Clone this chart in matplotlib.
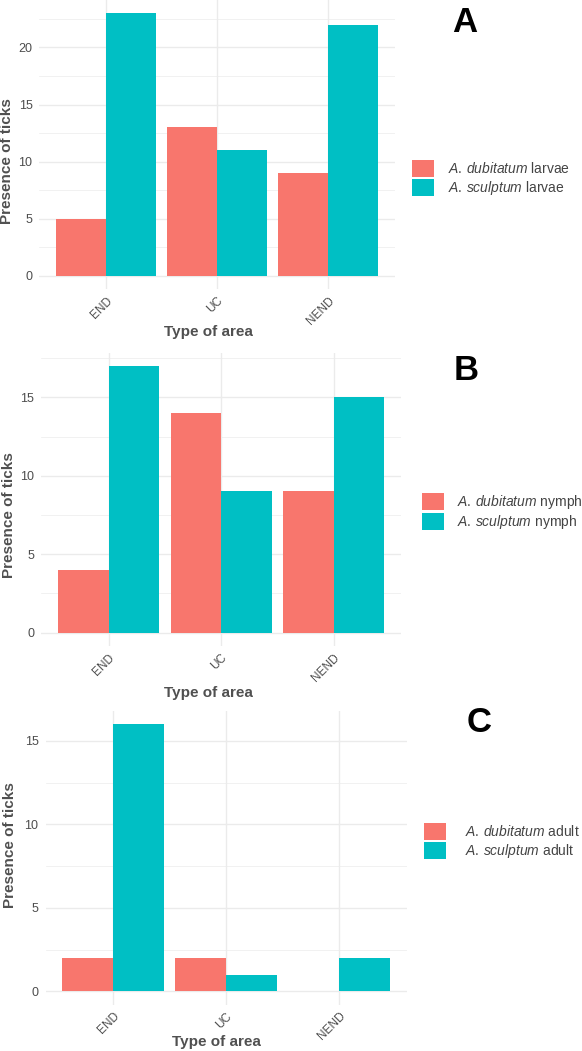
import numpy as np
import matplotlib
matplotlib.use("Agg")
import matplotlib.pyplot as plt
from matplotlib.ticker import MultipleLocator

plt.rcParams['font.family'] = ['Liberation Sans', 'DejaVu Sans']
plt.rcParams['mathtext.fontset'] = 'custom'
plt.rcParams['mathtext.rm'] = 'Liberation Sans'
plt.rcParams['mathtext.it'] = 'Liberation Sans:italic'

# Data
categories = ['END', 'UC', 'NEND']
larvae_dubitatum = [5, 13, 9]
larvae_sculptum = [23, 11, 22]
nymph_dubitatum = [4, 14, 9]
nymph_sculptum = [17, 9, 15]
adult_dubitatum = [2, 2, 0]
adult_sculptum = [16, 1, 2]

RED = '#F8766D'
TEAL = '#00BFC4'
GRID = '#ebebeb'
TXT = '#4d4d4d'

W, H = 582, 1051
fig = plt.figure(figsize=(W / 100, H / 100), dpi=100)


def px_axes(left, top, right, bottom):
    # pixel box -> figure fraction axes
    return fig.add_axes([left / W, 1 - bottom / H, (right - left) / W, (bottom - top) / H])


def draw_panel(ax, dub, scu, stage, letter, letter_xy, leg_xy, leg_pad, ylab_xy, xlab_xy):
    x = np.arange(len(categories))
    labels = [r'$\mathit{A.\!\ dubitatum}$ ' + stage, r'$\mathit{A.\!\ sculptum}$ ' + stage]
    b1 = ax.bar(x - 0.225, dub, 0.45, color=RED, zorder=2)
    b2 = ax.bar(x + 0.225, scu, 0.45, color=TEAL, zorder=2)
    ymax = max(max(dub), max(scu))
    ax.set_ylim(-0.05 * ymax, 1.05 * ymax)
    ax.set_xlim(-0.6, len(categories) - 0.4)
    ax.set_xticks(x)
    ax.set_xticklabels(categories, rotation=45, ha='right', va='top',
                       rotation_mode='anchor', fontsize=8.5, color=TXT)
    ax.yaxis.set_major_locator(MultipleLocator(5))
    ax.yaxis.set_minor_locator(MultipleLocator(2.5))
    ax.tick_params(axis='y', labelsize=9, labelcolor=TXT, length=0, pad=5)
    ax.tick_params(axis='y', which='minor', length=0)
    ax.tick_params(axis='x', length=0, pad=4)
    for s in ax.spines.values():
        s.set_visible(False)
    ax.grid(True, which='major', color=GRID, lw=1.0, zorder=0)
    ax.grid(True, which='minor', axis='y', color=GRID, lw=0.5, zorder=0)
    ax.set_axisbelow(True)

    ax.set_ylabel('Presence of ticks', fontsize=11, fontweight='bold', color='#505050')
    ax.yaxis.set_label_coords(*ylab_xy)
    ax.set_xlabel('Type of area', fontsize=11, fontweight='bold', color='#505050')
    ax.xaxis.set_label_coords(*xlab_xy)
    ax.xaxis.label.set_va('center')
    ax.yaxis.label.set_va('center')

    fig.text(letter_xy[0] / W, 1 - letter_xy[1] / H, letter, fontsize=25,
             fontweight='bold', ha='center', va='center', color='black')
    fig.legend(handles=[b1, b2], labels=labels, loc='upper left',
               bbox_to_anchor=(leg_xy[0] / W, 1 - leg_xy[1] / H), frameon=False,
               borderpad=0, borderaxespad=0, handlelength=1.6, handleheight=1.5,
               labelspacing=0.12, handletextpad=leg_pad, fontsize=10, labelcolor='#444444')


ax_a = px_axes(39.4, 0, 394.6, 289)
draw_panel(ax_a, larvae_dubitatum, larvae_sculptum, 'larvae', 'A', (465, 22),
           (412, 160), 1.0, (-0.09, 0.441), (0.477, -0.149))

ax_b = px_axes(41.2, 352.6, 401, 646)
draw_panel(ax_b, nymph_dubitatum, nymph_sculptum, 'nymph', 'B', (466, 370),
           (422, 493), 0.95, (-0.0895, 0.445), (0.466, -0.160))

ax_c = px_axes(45.5, 710.9, 407, 1004.7)
draw_panel(ax_c, adult_dubitatum, adult_sculptum, 'adult', 'C', (479, 722),
           (424, 823), 1.35, (-0.098, 0.542), (0.474, -0.127))

fig.savefig('out.png', dpi=100)
